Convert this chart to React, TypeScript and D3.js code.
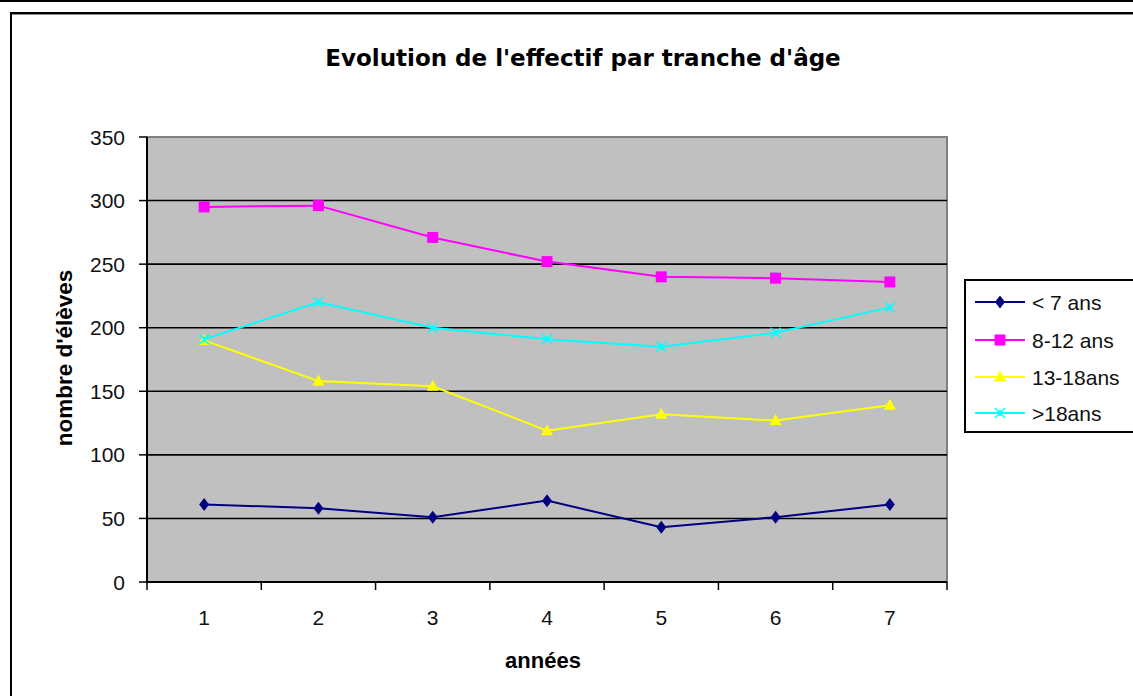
import { useEffect } from 'react';
import * as d3 from 'd3';

const YEARS = ['1', '2', '3', '4', '5', '6', '7'];
const Y_TICKS = [0, 50, 100, 150, 200, 250, 300, 350];

const UNDER_7 = [61, 58, 51, 64, 43, 51, 61];
const AGE_8_12 = [295, 296, 271, 252, 240, 239, 236];
const AGE_13_18 = [190, 158, 154, 119, 132, 127, 139];
const OVER_18 = [191, 220, 200, 191, 185, 196, 216];

const SERIES = [
  { name: '< 7 ans', values: UNDER_7, color: '#000080', marker: 'diamond' },
  { name: '8-12 ans', values: AGE_8_12, color: '#ff00ff', marker: 'square' },
  { name: '13-18ans', values: AGE_13_18, color: '#ffff00', marker: 'triangle' },
  { name: '>18ans', values: OVER_18, color: '#00ffff', marker: 'cross' },
];

const W = 1133;
const H = 696;
const PLOT = { left: 147, right: 947, top: 137, bottom: 582 };
const LABEL_FONT = '"Liberation Sans", Arial, sans-serif';

function Marker({ type, x, y, color }: { type: string; x: number; y: number; color: string }) {
  if (type === 'diamond') {
    return <path d={`M${x},${y - 6.5}L${x + 5},${y}L${x},${y + 6.5}L${x - 5},${y}Z`} fill={color} />;
  }
  if (type === 'square') {
    return <rect x={x - 5.5} y={y - 5.5} width={11} height={11} fill={color} />;
  }
  if (type === 'triangle') {
    return <path d={`M${x},${y - 6.5}L${x + 6},${y + 4.5}L${x - 6},${y + 4.5}Z`} fill={color} />;
  }
  // x marker with a small vertical stroke
  return (
    <g stroke={color} strokeWidth={1.5} fill="none">
      <path d={`M${x - 5},${y - 5}L${x + 5},${y + 5}M${x - 5},${y + 5}L${x + 5},${y - 5}M${x},${y - 3}L${x},${y + 3}`} />
    </g>
  );
}

export default function App() {
  useEffect(() => {
    document.body.style.margin = '0';
  }, []);

  const x = d3.scaleBand<string>().domain(YEARS).range([PLOT.left, PLOT.right]).padding(0);
  const y = d3.scaleLinear().domain([0, 350]).range([PLOT.bottom, PLOT.top]);
  const cx = (d: string) => (x(d) ?? 0) + x.bandwidth() / 2;

  const line = d3.line<number>()
    .x((_, i) => cx(YEARS[i]))
    .y(v => y(v));

  const tickEdges = [...YEARS.map(d => x(d) ?? 0), PLOT.right];

  const legendX = 965;
  const legendRows = [302, 340, 377, 413];

  return (
    <svg width={W} height={H} style={{ display: 'block', background: '#fff' }}>
      {/* page strip and chart frame */}
      <line x1={0} x2={W} y1={1} y2={1} stroke="#000" strokeWidth={2} />
      <rect x={11} y={13} width={W + 50} height={H + 50} fill="#fff" stroke="#000" strokeWidth={2} />
      <line x1={12} x2={W} y1={14.5} y2={14.5} stroke="#888" strokeWidth={1} />

      {/* title */}
      <text x={583} y={66} textAnchor="middle" fontFamily='"DejaVu Sans", Verdana, sans-serif'
        fontWeight="bold" fontSize={23} fill="#000">
        Evolution de l'effectif par tranche d'âge
      </text>

      {/* plot area */}
      <rect x={PLOT.left} y={PLOT.top} width={PLOT.right - PLOT.left} height={PLOT.bottom - PLOT.top}
        fill="#c0c0c0" stroke="#808080" strokeWidth={2} />

      {/* gridlines */}
      {Y_TICKS.filter(t => t > 0 && t < 350).map(t => (
        <line key={t} x1={PLOT.left} x2={PLOT.right} y1={y(t)} y2={y(t)} stroke="#000" strokeWidth={1.6} />
      ))}

      {/* axes */}
      <line x1={PLOT.left} x2={PLOT.left} y1={PLOT.top} y2={PLOT.bottom} stroke="#000" strokeWidth={2} />
      <line x1={PLOT.left} x2={PLOT.right} y1={PLOT.bottom} y2={PLOT.bottom} stroke="#000" strokeWidth={2} />
      {Y_TICKS.map(t => (
        <g key={t}>
          <line x1={PLOT.left - 8} x2={PLOT.left} y1={y(t)} y2={y(t)} stroke="#000" strokeWidth={1.5} />
          <text x={125} y={y(t)} dy="0.36em" textAnchor="end" fontFamily={LABEL_FONT} fontSize={21} fill="#111">
            {t}
          </text>
        </g>
      ))}
      {tickEdges.map((e, i) => (
        <line key={i} x1={e} x2={e} y1={PLOT.bottom} y2={PLOT.bottom + 8} stroke="#000" strokeWidth={1.5} />
      ))}
      {YEARS.map(d => (
        <text key={d} x={cx(d)} y={617} dy="0.36em" textAnchor="middle" fontFamily={LABEL_FONT} fontSize={21} fill="#111">
          {d}
        </text>
      ))}

      {/* axis titles */}
      <text x={543} y={660} dy="0.36em" textAnchor="middle" fontFamily={LABEL_FONT} fontWeight="bold" fontSize={22} fill="#000">
        années
      </text>
      <text transform={`translate(64,358) rotate(-90)`} dy="0.36em" textAnchor="middle" fontFamily={LABEL_FONT}
        fontWeight="bold" fontSize={22.5} fill="#000">
        nombre d'élèves
      </text>

      {/* series */}
      {SERIES.map(s => (
        <g key={s.name}>
          <path d={line(s.values) ?? ''} fill="none" stroke={s.color} strokeWidth={2} />
          {s.values.map((v, i) => (
            <Marker key={i} type={s.marker} x={cx(YEARS[i])} y={y(v)} color={s.color} />
          ))}
        </g>
      ))}

      {/* legend */}
      <rect x={legendX} y={280} width={W - legendX + 20} height={152} fill="#fff" stroke="#000" strokeWidth={2} />
      {SERIES.map((s, i) => (
        <g key={s.name}>
          <line x1={975} x2={1025} y1={legendRows[i]} y2={legendRows[i]} stroke={s.color} strokeWidth={2} />
          <Marker type={s.marker} x={1000} y={legendRows[i]} color={s.color} />
          <text x={1032} y={legendRows[i]} dy="0.36em" fontFamily={LABEL_FONT} fontSize={21} fill="#111">
            {s.name}
          </text>
        </g>
      ))}
    </svg>
  );
}
